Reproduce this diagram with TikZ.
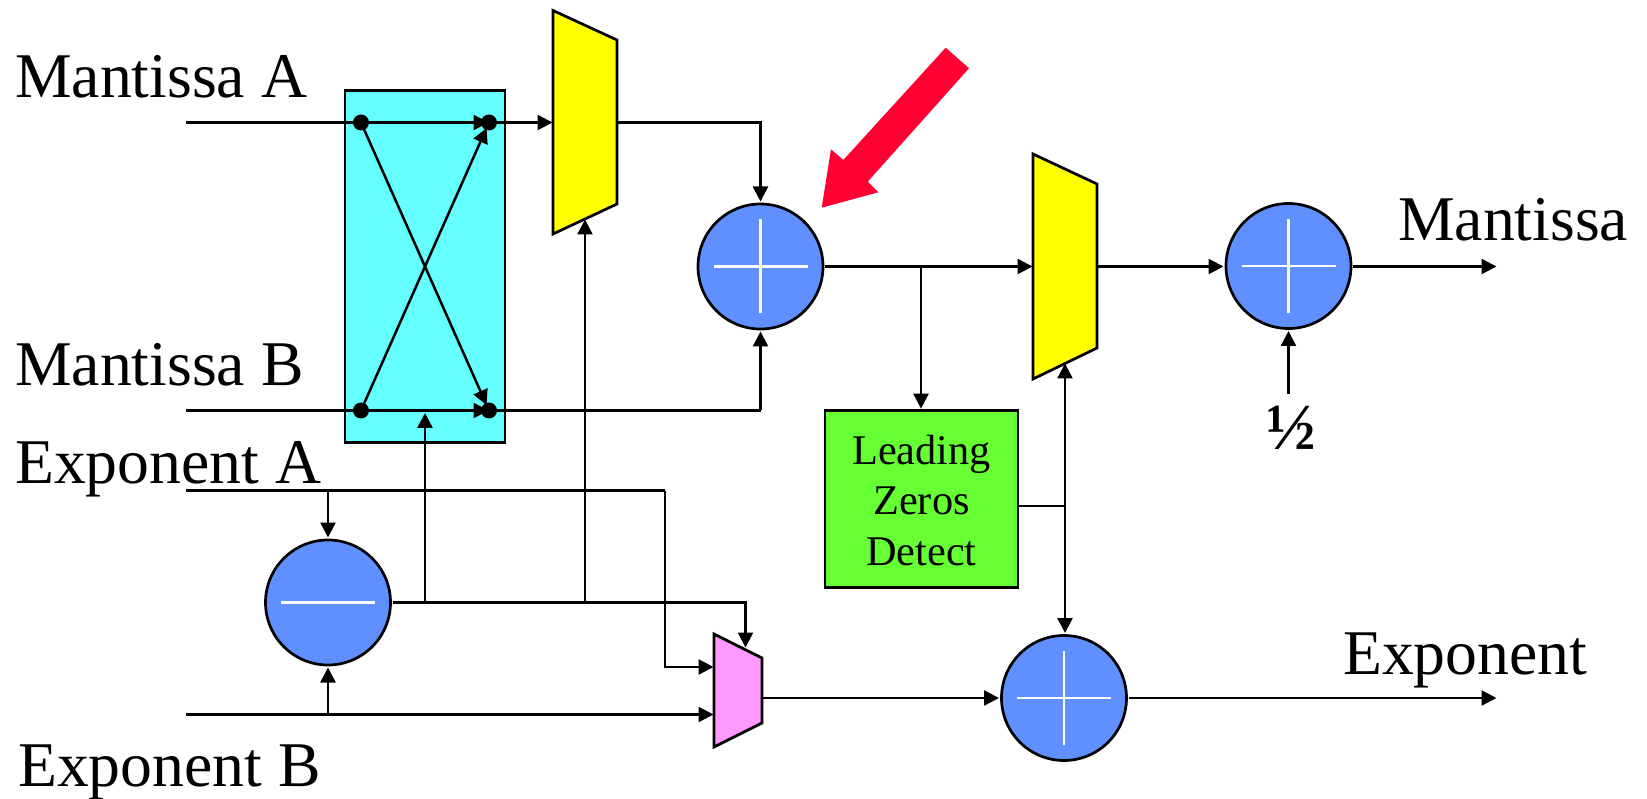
\documentclass[tikz,border=0pt]{standalone}
\usepackage{fontspec}
\setmainfont{Liberation Serif}
\usetikzlibrary{arrows.meta}
\definecolor{adderblue}{HTML}{6090FF}
\definecolor{swapcyan}{HTML}{66FFFF}
\definecolor{muxyellow}{HTML}{FFFF00}
\definecolor{muxpink}{HTML}{FF99FF}
\definecolor{lzdgreen}{HTML}{66FF33}
\definecolor{hotred}{HTML}{FF0033}
\tikzset{
  x=1pt,y=-1pt,
  wire/.style={draw=black,line width=2.5pt},
  arrowed/.style={wire,-{Triangle[length=15pt,width=15pt]},shorten >=0.5pt},
  outline/.style={draw=black,line width=2.7pt,line join=miter},
  adder/.style={circle,outline,fill=adderblue,minimum size=125pt,inner sep=0pt,outer sep=2pt},
  dotmark/.style={circle,fill=black,minimum size=16pt,inner sep=0pt},
  biglabel/.style={font=\fontsize{63.7}{70}\selectfont,anchor=base west,inner sep=0pt},
  crossline/.style={draw=white,line width=2.6pt},
}
\newcommand{\pluscross}[1]{%
  \draw[crossline] ([xshift=-47pt]#1.center) -- ([xshift=47pt]#1.center);
  \draw[crossline] ([yshift=-47pt]#1.center) -- ([yshift=47pt]#1.center);}
\begin{document}
\begin{tikzpicture}
\useasboundingbox (0,0) rectangle (1647,799);
% swap box
\node[outline,fill=swapcyan,minimum width=160pt,minimum height=352pt,inner sep=0pt] (swap) at (425,266.5) {};
\node[dotmark] (d1) at (361,122.5) {};
\node[dotmark] (d2) at (489,122.5) {};
\node[dotmark] (d3) at (361,410.5) {};
\node[dotmark] (d4) at (489,410.5) {};
% muxes
\draw[outline,fill=muxyellow] (553,10.5) -- (617,40) -- (617,204) -- (553,234) -- cycle;
\draw[outline,fill=muxyellow] (1033,154) -- (1097,184) -- (1097,348) -- (1033,379) -- cycle;
\draw[outline,fill=muxpink] (714,634) -- (762,658) -- (762,723) -- (714,747) -- cycle;
\coordinate (m1in) at (553,122.5);
\coordinate (m1out) at (617,122.5);
\coordinate (m1sel) at (585,219);
\coordinate (m2in) at (1033,266.5);
\coordinate (m2out) at (1097,266.5);
\coordinate (m2sel) at (1065,363);
\coordinate (m3a) at (714,667);
\coordinate (m3b) at (714,714.5);
\coordinate (m3sel) at (745.5,648);
\coordinate (m3out) at (762,698);
% adders
\node[adder] (add1) at (760.5,266.5) {};
\node[adder] (add2) at (1288.5,266) {};
\node[adder] (add3) at (1064,698) {};
\node[adder] (sub) at (328,602.5) {};
\pluscross{add1}\pluscross{add2}\pluscross{add3}
\draw[crossline] ([xshift=-47pt]sub.center) -- ([xshift=47pt]sub.center);
% leading zeros
\node[outline,fill=lzdgreen,minimum width=193pt,minimum height=177pt,inner sep=0pt] (lzd) at (921.5,499) {};
\node[align=center,inner sep=0pt,font=\fontsize{42.3}{50.5}\selectfont] (lzdtext) at (921.5,500.5) {Leading\\Zeros\\Detect};
% labels
\node[biglabel] (tma) at (15,98) {Mantissa A};
\node[biglabel] (tmb) at (15,386) {Mantissa B};
\node[biglabel] (tea) at (15,483) {Exponent A};
\node[biglabel] (teb) at (18,786) {Exponent B};
\node[biglabel] (tm) at (1398,241) {Mantissa};
\node[biglabel] (te) at (1343,674) {Exponent};
\node[font=\fontsize{66}{70}\selectfont\bfseries,inner sep=0pt] (half) at (1291,428) {½};
% free ends and junctions
\coordinate (ma) at (186,122.5);
\coordinate (mb) at (186,410.5);
\coordinate (ea) at (186,490.5);
\coordinate (eb) at (186,714.5);
\coordinate (mout) at (1497,266.5);
\coordinate (eout) at (1497,698);
\coordinate (hs) at (1288.5,394);
\coordinate (j1) at (425,602.5);
\coordinate (j2) at (585,602.5);
\coordinate (j3) at (sub.north |- ea);
\coordinate (j4) at (sub.south |- eb);
\coordinate (j5) at (921,266.5);
\coordinate (j6) at (1065,506);
\coordinate (mb2) at (760.5,410.5);
\coordinate (ea2) at (665,490.5);
\coordinate (sw) at (425,412.5);
% wires
\draw[arrowed] (ma) -- (d2.center);
\draw[arrowed] (d2.center) -- (m1in);
\draw[arrowed,shorten >=6pt] (d1.center) -- (d4.center);
\draw[arrowed,shorten >=6pt] (d3.center) -- (d2.center);
\draw[arrowed] (mb) -- (d4.center);
\draw[arrowed] (m1out) -| (add1.north);
\draw[wire] (d4.center) -- (mb2);
\draw[arrowed] (mb2) -- (add1.south);
\draw[arrowed] (sub.east) -| (m3sel);
\draw[arrowed] (j1) -- (sw);
\draw[arrowed] (j2) -- (m1sel);
\draw[wire] (ea) -- (ea2);
\draw[arrowed] (ea2) |- (m3a);
\draw[arrowed] (j3) -- (sub.north);
\draw[arrowed] (eb) -- (m3b);
\draw[arrowed] (j4) -- (sub.south);
\draw[arrowed] (m3out) -- (add3.west |- m3out);
\draw[arrowed] (add3.east |- eout) -- (eout);
\draw[arrowed] (add1.east) -- (m2in);
\draw[arrowed] (j5) -- (lzd.north -| j5);
\draw[arrowed] (m2out) -- (add2.west |- m2out);
\draw[arrowed] (add2.east |- mout) -- (mout);
\draw[arrowed] (hs) -- (add2.south);
\draw[wire] (lzd.east |- j6) -- (j6);
\draw[arrowed] (j6) -- (m2sel);
\draw[arrowed] (j6) -- (add3.north -| j6);
% red pointer
\fill[hotred] (945.7,47.7) -- (969,68.3) -- (867.7,181.7) -- (878.3,192.3) -- (821.7,207.7) -- (831,149.3) -- (843.3,160) -- cycle;
\end{tikzpicture}
\end{document}
